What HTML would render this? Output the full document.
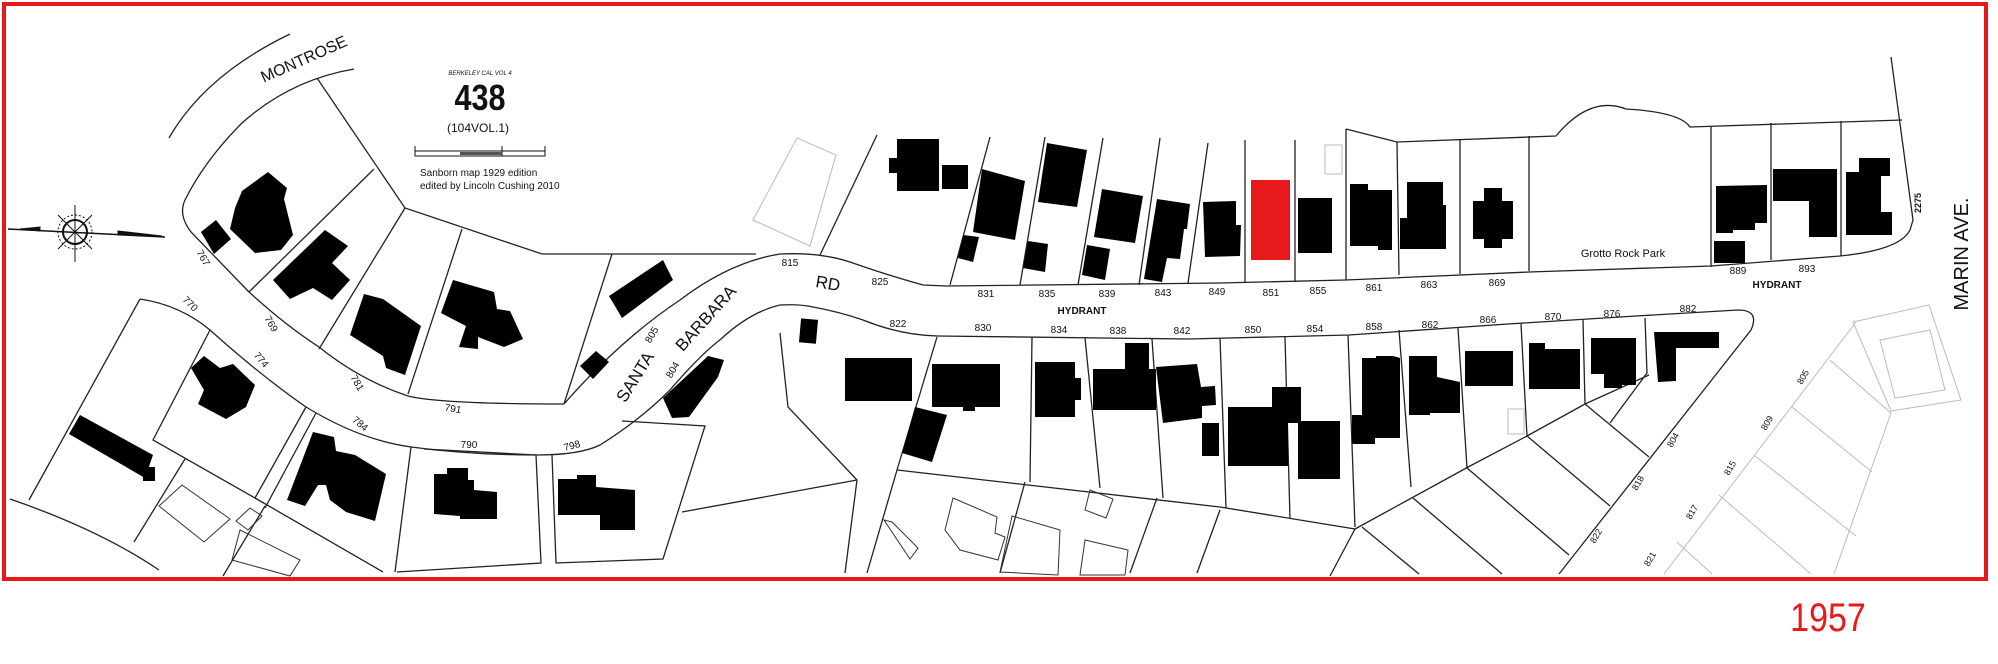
<!DOCTYPE html>
<html><head><meta charset="utf-8"><style>
html,body{margin:0;padding:0;background:#fff;}
svg{display:block;}
text{font-family:"Liberation Sans",sans-serif;fill:#111;}
</style></head><body>
<svg width="1998" height="664" viewBox="0 0 1998 664" xmlns="http://www.w3.org/2000/svg">
<rect x="0" y="0" width="1998" height="664" fill="#fff"/>
<g fill="none" stroke="#222" stroke-width="1.3">
<!-- Montrose -->
<path d="M169,138 Q205,75 290,34"/>
<path d="M354,69 Q290,80 242,123 Q205,160 185,200 Q178,215 191,232 L249,292 Q285,325 319,347 Q360,380 408,396 Q440,404 564,404"/>
<!-- top-left lot lines -->
<path d="M317,78 L405,208 L542,254 L756,254"/>
<path d="M374,169 L249,292"/><path d="M405,208 L319,349"/><path d="M462,229 L408,394"/>
<path d="M612,254 L564,404"/>
<!-- SB Rd north edge -->
<path d="M564,404 Q620,340 680,300 Q730,262 780,254 Q820,252 850,262 Q890,276 923,285 L947,286 L1220,283 L1346,280 L1529,272 L1711,266 L1840,256 Q1900,250 1910,230 L1913,220 L1891,57"/>
<path d="M877,135 L820,255"/>
<!-- SB Rd south edge -->
<path d="M140,299 Q180,305 210,330 Q260,375 306,407 Q360,440 411,447 Q470,455 536,455 Q580,455 600,445 Q640,420 670,390 Q700,355 721,339 Q750,312 780,305 Q800,304 813,307 Q840,312 863,320 Q900,335 937,336 L1189,339 L1349,335 L1508,324 L1636,316 L1738,310 Q1760,310 1751,330 L1559,574"/>
<!-- bottom-left lots -->
<path d="M140,299 L29,500"/><path d="M210,330 L153,440 L255,498 L306,407"/>
<path d="M185,459 L134,542"/><path d="M265,506 L223,576"/><path d="M316,413 L265,508"/>
<path d="M255,498 L383,572"/><path d="M411,447 L395,572"/>
<path d="M424,449 L536,455 L541,563 L397,572"/>
<path d="M552,455 L556,563 L663,559 L705,426 L622,421"/>
<path d="M10,499 Q100,530 159,570"/>
<path d="M780,333 L788,407 L857,480 L845,573"/><path d="M682,512 L857,480"/>
<path d="M937,337 L897,470 L867,573"/>
<path d="M897,470 L1220,507 L1355,529 L1330,576"/>
<path d="M1032,337 L1030,482"/><path d="M1085,338 L1100,488"/><path d="M1152,339 L1163,498"/>
<path d="M1220,338 L1226,508"/><path d="M1285,337 L1290,519"/><path d="M1348,335 L1355,527"/>
<path d="M1399,330 L1411,487"/><path d="M1458,328 L1467,468"/><path d="M1521,324 L1527,436"/>
<path d="M1583,320 L1585,404"/><path d="M1645,318 L1647,373 L1610,423"/>
<path d="M1355,529 L1470,466 L1527,436 L1585,404 L1649,375"/>
<path d="M1025,482 L1000,573"/><path d="M1157,498 L1130,573"/><path d="M1220,510 L1197,573"/>
<path d="M1527,436 L1610,506"/><path d="M1585,404 L1649,457"/><path d="M1467,468 L1569,555"/>
<path d="M1413,498 L1502,574"/><path d="M1362,527 L1419,574"/>
<!-- north lot dividers -->
<path d="M990,137 L950,285"/><path d="M1045,137 L1020,285"/><path d="M1103,138 L1078,285"/>
<path d="M1160,138 L1139,285"/><path d="M1208,143 L1188,283"/><path d="M1245,140 L1245,283"/>
<path d="M1295,140 L1295,282"/><path d="M1346,129 L1346,280"/><path d="M1397,142 L1399,275"/>
<path d="M1460,140 L1460,274"/><path d="M1529,136 L1529,271"/><path d="M1711,127 L1711,267"/>
<path d="M1771,123 L1771,260"/><path d="M1841,121 L1841,256"/>
<path d="M1346,129 L1397,142 L1556,136 Q1590,95 1626,109 Q1680,112 1690,127 L1902,120"/>
</g>
<!-- faint gray -->
<g fill="none" stroke="#bbb" stroke-width="1">
<path d="M753,220 L797,138 L836,155 L810,246 Z"/>
<path d="M1325,145 h17 v29 h-17 z"/>
<path d="M1508,409 h16 v25 h-16 z"/>
<path d="M1853,322 L1929,305 L1961,400 L1891,411 Z"/>
<path d="M1856,322 L1664,574"/><path d="M1891,413 L1834,574"/>
<path d="M1830,360 L1891,413"/><path d="M1792,407 L1872,472"/><path d="M1754,455 L1856,536"/>
<path d="M1719,495 L1811,574"/><path d="M1677,542 L1712,574"/>
<path d="M1880,340 L1930,330 L1945,390 L1895,398 Z"/>
</g>
<g fill="none" stroke="#333" stroke-width="1">
<path d="M159,506 L182,485 L230,519 L204,542 Z"/>
<path d="M236,521 L250,508 L262,516 L248,530 Z"/>
<path d="M953,498 L997,517 L995,533 L1005,537 L998,560 L960,550 L945,530 Z"/>
<path d="M884,520 L892,522 L918,548 L910,559 Z"/>
<path d="M1012,516 L1060,530 L1058,575 L1000,572 Z"/>
<path d="M1090,490 L1113,499 L1106,518 L1085,510 Z"/>
<path d="M1085,540 L1128,550 L1125,575 L1080,575 Z"/>
<path d="M240,530 L300,560 L290,576 L232,560 Z"/>
</g>
<!-- houses -->
<g fill="#000">
<polygon points="242,191 268,172 287,188 284,199 293,235 281,250 255,253 230,229 235,208"/>
<polygon points="201,232 216,220 231,239 214,254"/>
<polygon points="273,280 325,230 348,246 332,263 350,280 332,300 313,288 290,299"/>
<polygon points="364,294 383,299 421,326 405,375 386,368 383,356 350,335"/>
<polygon points="453,280 494,292 497,309 510,311 523,339 504,347 478,337 478,349 459,347 466,326 441,313"/>
<polygon points="609,296 663,260 673,280 622,318"/>
<polygon points="580,366 596,351 609,362 593,379"/>
<polygon points="663,398 708,356 724,360 718,377 689,417 672,418"/>
<polygon points="69,434 80,415 153,455 145,478"/>
<rect x="143" y="467" width="12" height="14"/>
<polygon points="191,368 204,356 220,368 233,364 255,385 246,407 226,419 198,404 204,390"/>
<polygon points="313,432 334,437 336,451 355,455 386,474 375,521 346,512 330,500 326,485 318,485 305,506 287,500"/>
<polygon points="447,468 468,468 468,480 474,480 474,490 497,492 497,519 460,519 460,516 434,514 434,474 447,474"/>
<polygon points="558,479 577,479 577,475 596,475 596,487 635,490 635,530 600,530 600,515 558,515"/>
<rect x="800" y="319" width="17" height="24" transform="rotate(5 808 331)"/>
<rect x="845" y="358" width="67" height="43"/>
<rect x="932" y="364" width="68" height="43"/><rect x="963" y="405" width="12" height="6"/>
<polygon points="915,407 947,415 932,462 902,453"/>
<rect x="1035" y="362" width="40" height="55"/><rect x="1074" y="378" width="7" height="22"/>
<rect x="1093" y="369" width="63" height="41"/><rect x="1125" y="343" width="24" height="27"/>
<polygon points="1156,367 1197,364 1201,387 1215,386 1216,405 1202,406 1202,418 1163,423"/>
<rect x="1202" y="423" width="17" height="33"/>
<rect x="1228" y="407" width="60" height="59"/><rect x="1272" y="387" width="29" height="36"/>
<rect x="1298" y="421" width="42" height="58"/>
<polygon points="1362,358 1376,358 1376,356 1393,356 1400,358 1400,438 1375,438 1375,444 1352,444 1352,415 1362,415"/>
<polygon points="1409,356 1437,356 1437,377 1460,382 1460,413 1430,413 1430,415 1409,415"/>
<rect x="1465" y="351" width="48" height="35"/>
<polygon points="1529,343 1545,343 1545,349 1580,349 1580,389 1529,389"/>
<polygon points="1591,338 1636,338 1636,385 1622,385 1622,388 1604,388 1604,374 1591,374"/>
<polygon points="1654,332 1719,332 1719,348 1676,348 1676,381 1658,382"/>
<!-- north side -->
<rect x="897" y="139" width="42" height="52"/><rect x="889" y="158" width="9" height="15"/>
<rect x="942" y="165" width="26" height="24"/>
<polygon points="982,169 1025,181 1015,240 973,232"/>
<polygon points="963,235 979,237 973,262 958,258"/>
<polygon points="1047,143 1087,150 1077,207 1038,202"/>
<polygon points="1028,241 1048,244 1045,272 1023,268"/>
<polygon points="1102,189 1143,196 1135,243 1094,237"/>
<polygon points="1087,245 1110,249 1105,280 1082,275"/>
<polygon points="1157,199 1190,204 1187,229 1184,229 1180,259 1167,258 1162,282 1144,279"/>
<polygon points="1203,202 1236,201 1236,225 1241,225 1240,256 1205,257"/>
<rect x="1298" y="198" width="34" height="55"/>
<polygon points="1350,184 1368,184 1368,190 1392,190 1392,250 1378,250 1378,246 1350,246"/>
<polygon points="1407,182 1443,182 1443,205 1446,205 1446,249 1400,249 1400,218 1407,218"/>
<polygon points="1484,188 1502,188 1502,201 1513,201 1513,239 1502,239 1502,248 1484,248 1484,239 1473,239 1473,201 1484,201"/>
<polygon points="1716,186 1767,185 1767,223 1755,223 1755,230 1733,230 1733,233 1716,233"/>
<rect x="1714" y="241" width="31" height="22"/>
<rect x="1773" y="169" width="64" height="32"/><rect x="1809" y="169" width="28" height="68"/>
<polygon points="1859,158 1890,158 1890,176 1881,176 1881,212 1892,212 1892,235 1846,235 1846,172 1859,172"/>
</g>
<rect x="1251" y="180" width="39" height="80" fill="#e8191b"/>
<!-- compass -->
<g stroke="#111" fill="none">
<line x1="8" y1="229" x2="165" y2="237" stroke-width="1.5"/>
<polygon points="118,231 162,236 118,235" fill="#111"/>
<polygon points="20,229 40,227 40,231" fill="#111"/>
<circle cx="75" cy="232" r="12" stroke-width="2"/>
<circle cx="75" cy="232" r="17" stroke-width="1" stroke-dasharray="2,2"/>
<line x1="75" y1="205" x2="75" y2="262"/>
<line x1="58" y1="215" x2="92" y2="249"/><line x1="92" y1="215" x2="58" y2="249"/>
</g>
<!-- title -->
<text x="480" y="75" font-size="6" font-style="italic" text-anchor="middle">BERKELEY CAL VOL 4</text>
<text x="480" y="110" font-size="36" font-weight="bold" text-anchor="middle" transform="translate(480 0) scale(0.85 1) translate(-480 0)">438</text>
<text x="478" y="132" font-size="12" text-anchor="middle">(104VOL.1)</text>
<g stroke="#111" fill="none"><rect x="415" y="151" width="130" height="5"/><line x1="415" y1="146" x2="415" y2="156"/><line x1="502" y1="146" x2="502" y2="156"/><line x1="545" y1="146" x2="545" y2="156"/></g>
<rect x="460" y="152" width="42" height="3" fill="#555"/>
<text x="420" y="176" font-size="10">Sanborn map 1929 edition</text>
<text x="420" y="189" font-size="10">edited by Lincoln Cushing 2010</text>
<!-- road names -->
<text x="306" y="64" font-size="16" text-anchor="middle" transform="rotate(-24 306 64)">MONTROSE</text>
<text x="640" y="380" font-size="17" text-anchor="middle" transform="rotate(-58 640 380)">SANTA</text>
<text x="710" y="322" font-size="17" text-anchor="middle" transform="rotate(-48 710 322)">BARBARA</text>
<text x="827" y="289" font-size="17" text-anchor="middle" transform="rotate(10 827 289)">RD</text>
<text x="1961" y="254" font-size="20" text-anchor="middle" transform="rotate(-90 1961 254)" dy="7">MARIN AVE.</text>
<text x="1918" y="203" font-size="9" font-weight="bold" text-anchor="middle" transform="rotate(-90 1918 203)" dy="3">2275</text>
<text x="1623" y="257" font-size="11" text-anchor="middle">Grotto Rock Park</text>
<g font-size="10" font-weight="bold" text-anchor="middle">
<text x="1082" y="314">HYDRANT</text><text x="1777" y="288">HYDRANT</text>
</g>
<!-- lot numbers -->
<g font-size="10" text-anchor="middle">
<text x="203" y="261" transform="rotate(60 203 258)">767</text>
<text x="271" y="327" transform="rotate(60 271 324)">769</text>
<text x="190" y="307" transform="rotate(45 190 304)">770</text>
<text x="261" y="363" transform="rotate(50 261 360)">774</text>
<text x="357" y="386" transform="rotate(60 357 383)">781</text>
<text x="453" y="412" transform="rotate(10 453 409)">791</text>
<text x="360" y="427" transform="rotate(40 360 424)">784</text>
<text x="469" y="448">790</text>
<text x="572" y="449" transform="rotate(-15 572 446)">798</text>
<text x="652" y="338" transform="rotate(-60 652 335)">805</text>
<text x="673" y="373" transform="rotate(-60 673 370)">804</text>
<text x="790" y="266">815</text><text x="880" y="285">825</text>
<text x="986" y="297">831</text><text x="1047" y="297">835</text><text x="1107" y="297">839</text>
<text x="1163" y="296">843</text><text x="1217" y="295">849</text><text x="1271" y="296">851</text>
<text x="1318" y="294">855</text><text x="1374" y="291">861</text><text x="1429" y="288">863</text>
<text x="1497" y="286">869</text><text x="1738" y="274">889</text><text x="1807" y="272">893</text>
<text x="898" y="327">822</text><text x="983" y="331">830</text><text x="1059" y="333">834</text>
<text x="1118" y="334">838</text><text x="1182" y="334">842</text><text x="1253" y="333">850</text>
<text x="1315" y="332">854</text><text x="1374" y="330">858</text><text x="1430" y="328">862</text>
<text x="1488" y="323">866</text><text x="1553" y="320">870</text><text x="1612" y="317">876</text>
<text x="1688" y="312">882</text>
</g>
<g font-size="9" text-anchor="middle">
<text x="1803" y="380" transform="rotate(-60 1803 377)">805</text>
<text x="1767" y="426" transform="rotate(-60 1767 423)">809</text>
<text x="1730" y="471" transform="rotate(-60 1730 468)">815</text>
<text x="1692" y="515" transform="rotate(-60 1692 512)">817</text>
<text x="1650" y="562" transform="rotate(-60 1650 559)">821</text>
<text x="1673" y="443" transform="rotate(-60 1673 440)">804</text>
<text x="1638" y="486" transform="rotate(-60 1638 483)">818</text>
<text x="1596" y="539" transform="rotate(-60 1596 536)">822</text>
</g>
<!-- frame -->
<rect x="4" y="4" width="1982" height="575" fill="none" stroke="#e8191b" stroke-width="4"/>
<text x="1828" y="631" font-size="40" fill="#e8191b" style="fill:#e8191b" text-anchor="middle" transform="translate(1828 0) scale(0.85 1) translate(-1828 0)">1957</text>
</svg>
</body></html>
